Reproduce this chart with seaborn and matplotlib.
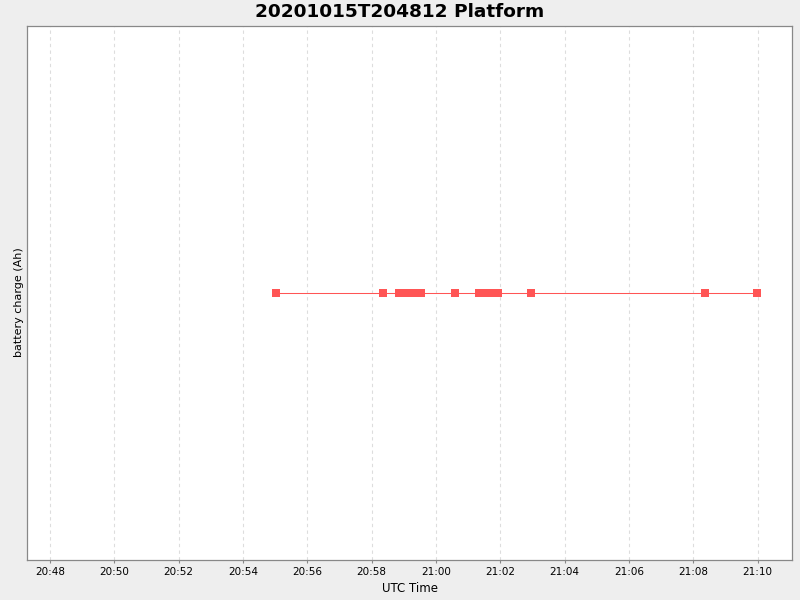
import pandas as pd
import matplotlib
matplotlib.use("Agg")
import matplotlib.pyplot as plt
import matplotlib.dates as mdates
import seaborn as sns

# DATA
day = "2020-10-15 "
times = ["20:55:01", "20:58:21",
         "20:58:51", "20:59:00", "20:59:10", "20:59:20", "20:59:32",
         "21:00:35",
         "21:01:20", "21:01:30", "21:01:40", "21:01:55",
         "21:02:57", "21:08:21", "21:09:58"]
charge = [0.0] * len(times)

x_start = "20:47:17"
x_end = "21:11:04"

df = pd.DataFrame({"time": pd.to_datetime([day + t for t in times]),
                   "charge": charge})

# STYLE
sns.set_style("white")
plt.rcParams["font.family"] = ["DejaVu Sans"]
plt.rcParams["text.color"] = "black"
plt.rcParams["axes.labelcolor"] = "black"
plt.rcParams["xtick.color"] = "black"

fig = plt.figure(figsize=(8, 6), dpi=100, facecolor="#EEEEEE")
ax = fig.add_axes([27 / 800, 40 / 600, 765 / 800, 534 / 600])
ax.set_facecolor("white")

sns.lineplot(data=df, x="time", y="charge", ax=ax, color="#FF5555",
             linewidth=0.75, marker="s", markersize=5.6,
             markeredgewidth=0, markerfacecolor="#FF5555")

ax.set_xlim(pd.Timestamp(day + x_start), pd.Timestamp(day + x_end))
ax.set_ylim(-1, 1)

ax.xaxis.set_major_locator(mdates.MinuteLocator(byminute=range(0, 60, 2)))
ax.xaxis.set_major_formatter(mdates.DateFormatter("%H:%M"))
ax.tick_params(axis="x", labelsize=7.5, length=2, color="#888888",
               labelcolor="black", pad=3, direction="out", bottom=True)
ax.set_yticks([])

ax.grid(axis="x", color="#DDDDDD", linestyle=(0, (3, 3)), linewidth=0.8)
for s in ax.spines.values():
    s.set_color("#888888")
    s.set_linewidth(0.9)

ax.set_xlabel("UTC Time", fontsize=8.5, labelpad=4, color="black")
ax.set_ylabel("battery charge (Ah)", fontsize=8, color="black")
ax.yaxis.set_label_coords(-0.004, 0.483)
fig.suptitle("20201015T204812 Platform", fontsize=13.3, fontweight="bold",
             y=0.995, color="black")

fig.savefig("out.png", dpi=100, facecolor=fig.get_facecolor())
